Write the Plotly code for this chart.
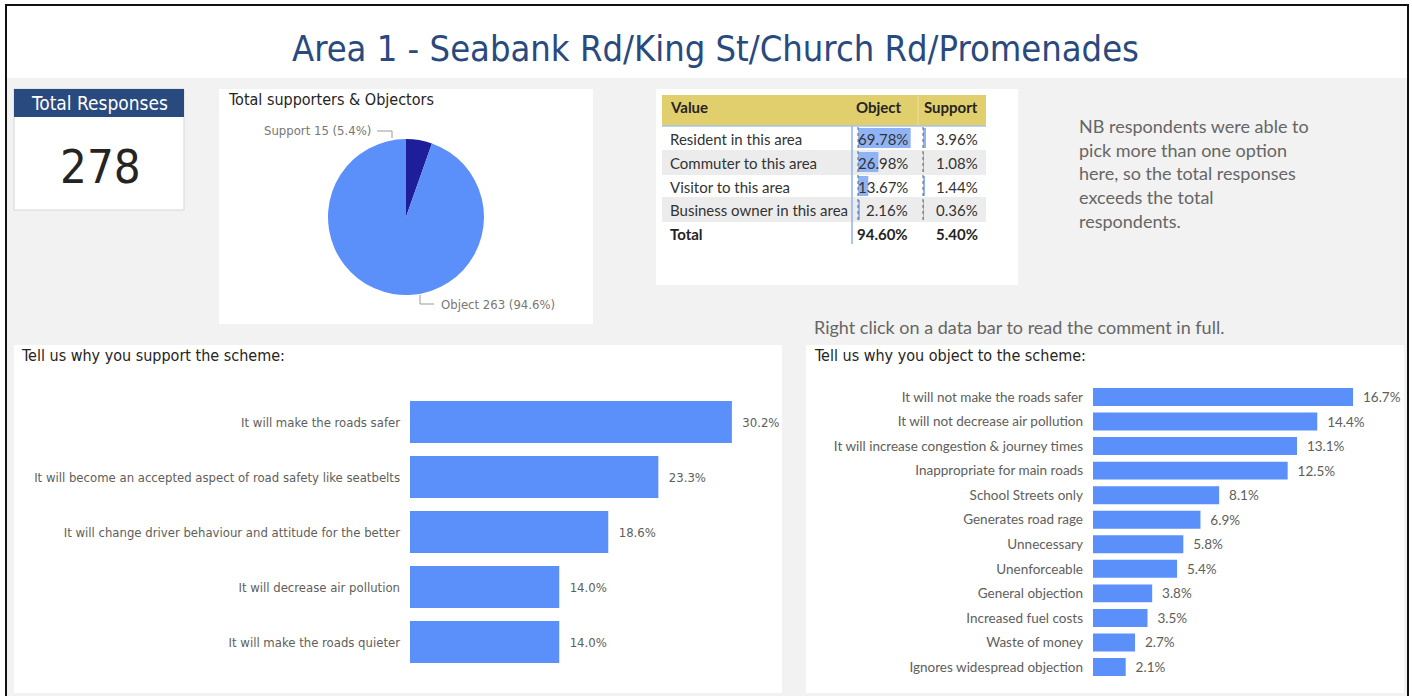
import plotly.graph_objects as go

# ---------------- data ----------------
page_title = "Area 1 - Seabank Rd/King St/Church Rd/Promenades"
total_label = "Total Responses"
total_responses = 278

pie_labels = ["Support", "Object"]
pie_values = [15, 263]

table_cols = ["Value", "Object", "Support"]
table_rows = ["Resident in this area", "Commuter to this area", "Visitor to this area",
              "Business owner in this area"]
table_object = [69.78, 26.98, 13.67, 2.16]
table_support = [3.96, 1.08, 1.44, 0.36]
table_totals = [94.60, 5.40]

note_lines = ["NB respondents were able to", "pick more than one option",
              "here, so the total responses", "exceeds the total", "respondents."]
hint_text = "Right click on a data bar to read the comment in full."

support_title = "Tell us why you support the scheme:"
support_reasons = ["It will make the roads safer",
                   "It will become an accepted aspect of road safety like seatbelts",
                   "It will change driver behaviour and attitude for the better",
                   "It will decrease air pollution",
                   "It will make the roads quieter"]
support_pct = [30.2, 23.3, 18.6, 14.0, 14.0]

object_title = "Tell us why you object to the scheme:"
object_reasons = ["It will not make the roads safer", "It will not decrease air pollution",
                  "It will increase congestion & journey times", "Inappropriate for main roads",
                  "School Streets only", "Generates road rage", "Unnecessary", "Unenforceable",
                  "General objection", "Increased fuel costs", "Waste of money",
                  "Ignores widespread objection"]
object_pct = [16.7, 14.4, 13.1, 12.5, 8.1, 6.9, 5.8, 5.4, 3.8, 3.5, 2.7, 2.1]

# ---------------- styling helpers ----------------
W, H = 1412, 696
DIN = "DIN, 'Liberation Sans Narrow', 'DejaVu Sans Condensed', Roboto, sans-serif"
SEGOE = "'Segoe UI', Lato, 'Open Sans', sans-serif"
BLUE = "#5b8ff9"
NAVY = "#1e1e9a"
DARKBLUE = "#294a7e"
GREY_TXT = "#605e5c"
NB = "\u00a0"


def px(x):
    return x / W


def py(y):
    return 1 - y / H


shapes = []
annotations = []


def rect(x0, y0, x1, y1, fill, line=None, lw=0, layer="below"):
    shapes.append(dict(type="rect", xref="paper", yref="paper", x0=px(x0), x1=px(x1),
                       y0=py(y1), y1=py(y0), fillcolor=fill, layer=layer,
                       line=dict(color=line or "rgba(0,0,0,0)", width=lw)))


def line(x0, y0, x1, y1, color, lw=1, dash="solid"):
    shapes.append(dict(type="line", xref="paper", yref="paper", x0=px(x0), x1=px(x1),
                       y0=py(y0), y1=py(y1), line=dict(color=color, width=lw, dash=dash),
                       layer="above"))


def path(pts, color, lw=1):
    d = "M " + " L ".join(f"{px(x)},{py(y)}" for x, y in pts)
    shapes.append(dict(type="path", xref="paper", yref="paper", path=d,
                       line=dict(color=color, width=lw), layer="above"))


def text(x, y, s, size, color, family, anchor="left", bold=False):
    if bold:
        s = f"<b>{s}</b>"
    annotations.append(dict(x=px(x), y=py(y), xref="paper", yref="paper", text=s,
                            showarrow=False, xanchor=anchor, yanchor="middle",
                            font=dict(size=size, color=color, family=family)))


# ---------------- backgrounds ----------------
rect(7, 78, 1407, 705, "#f2f2f2")
rect(6, 5, 1408, 705, "rgba(0,0,0,0)", line="#111111", lw=2, layer="above")
# cards
rect(14, 89, 184, 210, "white", line="#d6d6d6", lw=1)
rect(14, 89, 184, 117, DARKBLUE)
rect(219, 89, 593, 324, "white")
rect(656, 89, 1018, 285, "white")
rect(14, 345, 782, 693, "white")
rect(806, 345, 1404, 693, "white")

# ---------------- title ----------------
text(716, 48, page_title, 36, DARKBLUE, DIN, anchor="center")

# ---------------- KPI card ----------------
text(99, 103, total_label, 19, "white", DIN, anchor="center")
text(100, 167, str(total_responses), 47, "#252423", DIN, anchor="center")

# ---------------- pie ----------------
text(226, 99, "Total supporters & Objectors", 16, "#252423", DIN)
tot = sum(pie_values)
text(373, 131, f"{pie_labels[0]} {pie_values[0]} ({pie_values[0] / tot * 100:.1f}%)", 13, "#777777", DIN, anchor="right")
text(439, 304, f"{pie_labels[1]} {pie_values[1]} ({pie_values[1] / tot * 100:.1f}%)", 13, "#777777", DIN)
path([(377, 131), (392, 131), (392, 138)], "#9a9a9a")
path([(420, 295), (420, 304), (434, 304)], "#9a9a9a")

pie = go.Pie(labels=pie_labels, values=pie_values, sort=False, direction="counterclockwise",
             rotation=0, textinfo="none", marker=dict(colors=[NAVY, BLUE], line=dict(width=0)),
             domain=dict(x=[px(328), px(484)], y=[py(295), py(139)]), hoverinfo="label+value+percent")

# ---------------- table ----------------
rect(662, 95, 986, 126, "#e0cf6c")
line(918, 96, 918, 125, "#ebe09f", 1)
rect(662, 150, 986, 175, "#ececec")
rect(662, 197, 986, 222, "#ececec")
line(662, 126, 986, 126, "#a9c4f0", 1.5)
line(852, 126, 852, 244, "#8fb3ef", 1.5)
line(858, 127, 858, 222, "#666666", 1, "dot")
line(923, 127, 923, 222, "#666666", 1, "dot")

text(668, 107, table_cols[0], 15, "#252423", SEGOE, bold=True)
text(904, 107, table_cols[1], 15, "#252423", SEGOE, anchor="right", bold=True)
text(980, 107, table_cols[2], 15, "#252423", SEGOE, anchor="right", bold=True)
row_y = [139, 163, 187, 210]
for name, o, s, yy in zip(table_rows, table_object, table_support, row_y):
    text(668, yy, name, 15, "#333333", SEGOE)
    text(910, yy, f"{o:.2f}%", 15, "#333333", SEGOE, anchor="right")
    text(980, yy, f"{s:.2f}%", 15, "#333333", SEGOE, anchor="right")
text(668, 234, "Total", 15, "#252423", SEGOE, bold=True)
text(910, 234, f"{table_totals[0]:.2f}%", 15, "#252423", SEGOE, anchor="right", bold=True)
text(980, 234, f"{table_totals[1]:.2f}%", 15, "#252423", SEGOE, anchor="right", bold=True)

databar_obj = go.Bar(y=table_rows, x=table_object, orientation="h", xaxis="x3", yaxis="y3",
                     marker=dict(color="#8fb3f5", line=dict(width=0)), width=0.83, hoverinfo="x")
databar_sup = go.Bar(y=table_rows, x=table_support, orientation="h", xaxis="x4", yaxis="y4",
                     marker=dict(color="#8fb3f5", line=dict(width=0)), width=0.83, hoverinfo="x")

# ---------------- notes ----------------
for i, ln in enumerate(note_lines):
    text(1077, 126 + i * 23.7, ln, 18, "#666666", SEGOE)
text(812, 327, hint_text, 18, "#666666", SEGOE)

# ---------------- bar charts ----------------
text(19, 355, support_title, 16, "#252423", DIN)
text(812, 355, object_title, 16, "#252423", DIN)

sup_bar = go.Bar(y=support_reasons, x=support_pct, orientation="h", xaxis="x", yaxis="y",
                 marker=dict(color=BLUE, line=dict(width=0)), width=0.764,
                 texttemplate=NB + NB + "%{x:.1f}%", textposition="outside", cliponaxis=False,
                 textfont=dict(size=13, color=GREY_TXT, family=DIN), hoverinfo="y+x")
obj_bar = go.Bar(y=object_reasons, x=object_pct, orientation="h", xaxis="x2", yaxis="y2",
                 marker=dict(color=BLUE, line=dict(width=0)), width=0.733,
                 texttemplate=NB + NB + "%{x:.1f}%", textposition="outside", cliponaxis=False,
                 textfont=dict(size=13.5, color=GREY_TXT, family=SEGOE), hoverinfo="y+x")

hidden_x = dict(showgrid=False, zeroline=False, showticklabels=False, showline=False, fixedrange=True)

fig = go.Figure([pie, databar_obj, databar_sup, sup_bar, obj_bar])
fig.update_layout(
    width=W, height=H, autosize=False, margin=dict(l=0, r=0, t=0, b=0, pad=0),
    paper_bgcolor="white", plot_bgcolor="rgba(0,0,0,0)", showlegend=False,
    shapes=shapes, annotations=annotations,
    xaxis=dict(domain=[px(410), px(782)], range=[0, 34.9], anchor="y", **hidden_x),
    yaxis=dict(domain=[py(669.5), py(394.5)], anchor="x", type="category",
               categoryorder="array", categoryarray=support_reasons, range=[4.5, -0.5],
               showgrid=False, zeroline=False, showline=False, ticks="", ticklabelstandoff=9,
               tickfont=dict(size=13, color=GREY_TXT, family=DIN)),
    xaxis2=dict(domain=[px(1093), px(1404)], range=[0, 19.97], anchor="y2", **hidden_x),
    yaxis2=dict(domain=[py(679.3), py(384.7)], anchor="x2", type="category",
                categoryorder="array", categoryarray=object_reasons, range=[11.5, -0.5],
                showgrid=False, zeroline=False, showline=False, ticks="", ticklabelstandoff=9,
                tickfont=dict(size=13.5, color=GREY_TXT, family=SEGOE)),
    xaxis3=dict(domain=[px(858), px(933.5)], range=[0, 100], anchor="y3", **hidden_x),
    yaxis3=dict(domain=[py(222), py(126)], anchor="x3", type="category", categoryorder="array",
                categoryarray=table_rows, range=[3.5, -0.5], showticklabels=False,
                showgrid=False, zeroline=False, showline=False),
    xaxis4=dict(domain=[px(923), px(998.5)], range=[0, 100], anchor="y4", **hidden_x),
    yaxis4=dict(domain=[py(222), py(126)], anchor="x4", type="category", categoryorder="array",
                categoryarray=table_rows, range=[3.5, -0.5], showticklabels=False,
                showgrid=False, zeroline=False, showline=False),
)

fig.write_html("out.html", config={"displayModeBar": False},
               post_script="document.body.style.margin='0';")
